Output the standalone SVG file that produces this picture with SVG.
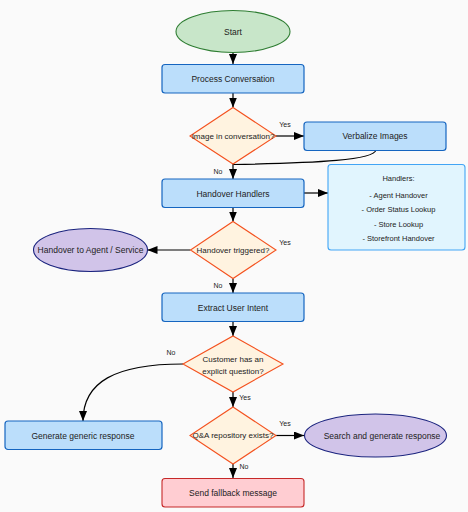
<svg xmlns="http://www.w3.org/2000/svg" width="468" height="512" viewBox="0 0 468 512">
<defs>
<marker id="ah" viewBox="0 0 10 8" refX="10" refY="4" markerWidth="10" markerHeight="8" markerUnits="userSpaceOnUse" orient="auto">
<path d="M0,0 L10,4 L0,8 z" fill="#000"/>
</marker>
</defs>
<style>
text{font-family:"Liberation Sans",Arial,sans-serif;fill:#222;text-anchor:middle;dominant-baseline:central}
.t{font-size:8.5px}
.d{font-size:8px}
.l{font-size:7px}
.h{font-size:7.5px}
.box{fill:#bbdefb;stroke:#1565c0;stroke-width:1.2}
.dia{fill:#fff3e0;stroke:#f4511e;stroke-width:1.1}
.oval{fill:#d1c4e9;stroke:#1a237e;stroke-width:1.1}
.edge{fill:none;stroke:#000;stroke-width:1.2}
</style>
<rect x="0" y="0" width="468" height="512" fill="#fafafa"/>

<g id="connectors">
<line class="edge" x1="233" y1="52.5" x2="233" y2="64" marker-end="url(#ah)"/>
<line class="edge" x1="233" y1="93" x2="233" y2="107.5" marker-end="url(#ah)"/>
<line class="edge" x1="276" y1="136" x2="304" y2="136" marker-end="url(#ah)"/>
<path class="edge" d="M376,150 C374,160 320,163 233,164.5"/>
<line class="edge" x1="233" y1="164" x2="233" y2="179" marker-end="url(#ah)"/>
<line class="edge" x1="304" y1="193" x2="328" y2="193" marker-end="url(#ah)"/>
<line class="edge" x1="233" y1="207" x2="233" y2="221.5" marker-end="url(#ah)"/>
<line class="edge" x1="190.5" y1="250" x2="147.5" y2="250" marker-end="url(#ah)"/>
<line class="edge" x1="233" y1="278.5" x2="233" y2="293" marker-end="url(#ah)"/>
<line class="edge" x1="233" y1="321" x2="233" y2="336" marker-end="url(#ah)"/>
<path class="edge" d="M183,364 C115,364 83,382 83,421" marker-end="url(#ah)"/>
<line class="edge" x1="233" y1="392" x2="233" y2="407" marker-end="url(#ah)"/>
<line class="edge" x1="276" y1="435.5" x2="304" y2="435.5" marker-end="url(#ah)"/>
<line class="edge" x1="233" y1="464" x2="233" y2="478" marker-end="url(#ah)"/>
<text class="l" x="285" y="124.5">Yes</text>
<text class="l" x="218" y="171.5">No</text>
<text class="l" x="285" y="242">Yes</text>
<text class="l" x="218" y="285.5">No</text>
<text class="l" x="171" y="352">No</text>
<text class="l" x="245" y="397">Yes</text>
<text class="l" x="285" y="423">Yes</text>
<text class="l" x="244" y="466">No</text>
</g>

<g id="start">
<ellipse cx="233" cy="31.5" rx="57" ry="21" fill="#c8e6c9" stroke="#2e7d32" stroke-width="1.1"/>
<text class="t" x="233" y="31.5">Start</text>
</g>
<g id="process">
<rect class="box" x="162" y="64.5" width="142" height="28.5" rx="3"/>
<text class="t" x="233" y="79">Process Conversation</text>
</g>
<g id="image-decision">
<polygon class="dia" points="233,107.5 276,136 233,164 190,136"/>
<text class="d" x="233" y="136">Image in conversation?</text>
</g>
<g id="verbalize">
<rect class="box" x="304" y="122" width="142" height="28.5" rx="3"/>
<text class="t" x="375" y="136">Verbalize Images</text>
</g>
<g id="handover-handlers">
<rect class="box" x="162" y="179" width="142" height="28.5" rx="3"/>
<text class="t" x="233" y="193.5">Handover Handlers</text>
</g>
<g id="handlers-list">
<rect x="328" y="164.5" width="137" height="85.5" rx="3" fill="#e1f5fe" stroke="#42a5f5" stroke-width="1.1"/>
<text class="h" x="398.5" y="178.5">Handlers:</text>
<text class="h" x="398.5" y="195">- Agent Handover</text>
<text class="h" x="398.5" y="209.5">- Order Status Lookup</text>
<text class="h" x="398.5" y="224">- Store Lookup</text>
<text class="h" x="398.5" y="238.5">- Storefront Handover</text>
</g>
<g id="handover-decision">
<polygon class="dia" points="233,221.5 276,250 233,278.5 190.5,250"/>
<text class="d" x="233" y="250">Handover triggered?</text>
</g>
<g id="handover-agent">
<ellipse class="oval" cx="90.5" cy="250" rx="57" ry="21.5"/>
<text class="t" x="90.5" y="250">Handover to Agent / Service</text>
</g>
<g id="extract-intent">
<rect class="box" x="162" y="293" width="142" height="28.5" rx="3"/>
<text class="t" x="233" y="307.5">Extract User Intent</text>
</g>
<g id="question-decision">
<polygon class="dia" points="233,336 283,364 233,392 183,364"/>
<text class="d" x="233" y="359">Customer has an</text>
<text class="d" x="233" y="371.5">explicit question?</text>
</g>
<g id="generic-response">
<rect class="box" x="5" y="421" width="157" height="28.5" rx="3"/>
<text class="t" x="83" y="435.5">Generate generic response</text>
</g>
<g id="qa-decision">
<polygon class="dia" points="233,407 276,435.5 233,464 190,435.5"/>
<text class="d" x="233" y="435.5">Q&amp;A repository exists?</text>
</g>
<g id="search-response">
<ellipse class="oval" cx="375.5" cy="435.5" rx="71" ry="21.5"/>
<text class="t" x="382" y="435.5">Search and generate response</text>
</g>
<g id="fallback">
<rect x="162" y="478.5" width="142" height="28.5" rx="3" fill="#ffcdd2" stroke="#c62828" stroke-width="1.1"/>
<text class="t" x="233" y="492.5">Send fallback message</text>
</g>
</svg>
